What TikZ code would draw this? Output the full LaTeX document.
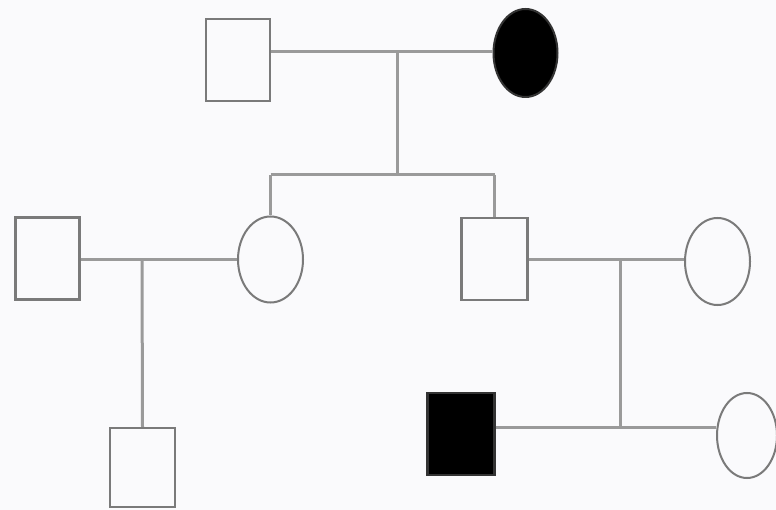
\documentclass[tikz,border=0pt]{standalone}
\usetikzlibrary{shapes.geometric}
\definecolor{bg}{HTML}{FAFAFC}
\definecolor{edge}{HTML}{7A7A7A}
\definecolor{link}{HTML}{9A9A9A}
\tikzset{
  male/.style={rectangle, draw=edge, line width=2.3pt, inner sep=0pt, fill=bg, minimum width=64pt, minimum height=82pt},
  female/.style={ellipse, draw=edge, line width=2pt, inner sep=0pt, fill=bg, minimum width=65pt, minimum height=86pt},
  affected/.style={fill=black, draw=black!80},
  conn/.style={draw=link, line width=3pt}
}
\begin{document}
\begin{tikzpicture}[x=1pt,y=-1pt]
\useasboundingbox (0,0) rectangle (776,510);
\fill[bg] (0,0) rectangle (776,510);
% generation I
\node[male] (gf) at (238,60) {};
\node[female,affected, minimum width=64pt, minimum height=88pt] (gm) at (525.5,53) {};
% generation II
\node[male] (h1) at (47.5,258.5) {};
\node[female] (d1) at (270.5,259.5) {};
\node[male, minimum width=66pt] (s1) at (494.5,259) {};
\node[female, minimum height=87pt] (w1) at (717.5,261.5) {};
% generation III
\node[male, minimum width=65pt, minimum height=79pt] (c1) at (142.5,467.5) {};
\node[male,affected, minimum width=67pt] (c2) at (461,434) {};
\node[female, minimum width=60pt, minimum height=85pt] (c3) at (747,435.5) {};
% couple 1
\coordinate (m1) at (397,52);
\coordinate (sib) at (397,175);
\draw[conn] (gf.east |- m1) -- (gm.west |- m1);
\draw[conn] (m1) -- (sib);
\draw[conn] (d1.north |- sib) -- (s1.north |- sib);
\draw[conn] (d1.north |- sib) -- (d1.north);
\draw[conn] (s1.north |- sib) -- (s1.north);
% couple 2
\coordinate (m2) at (142,260);
\draw[conn] (h1.east |- m2) -- (d1.west |- m2);
\draw[conn] (m2) -- (c1.north);
% couple 3
\coordinate (m3) at (620,260);
\coordinate (sib3) at (620,427);
\draw[conn] (s1.east |- m3) -- (w1.west |- m3);
\draw[conn] (m3) -- (sib3);
\draw[conn] (c2.east |- sib3) -- (c3.west |- sib3);
\end{tikzpicture}
\end{document}
